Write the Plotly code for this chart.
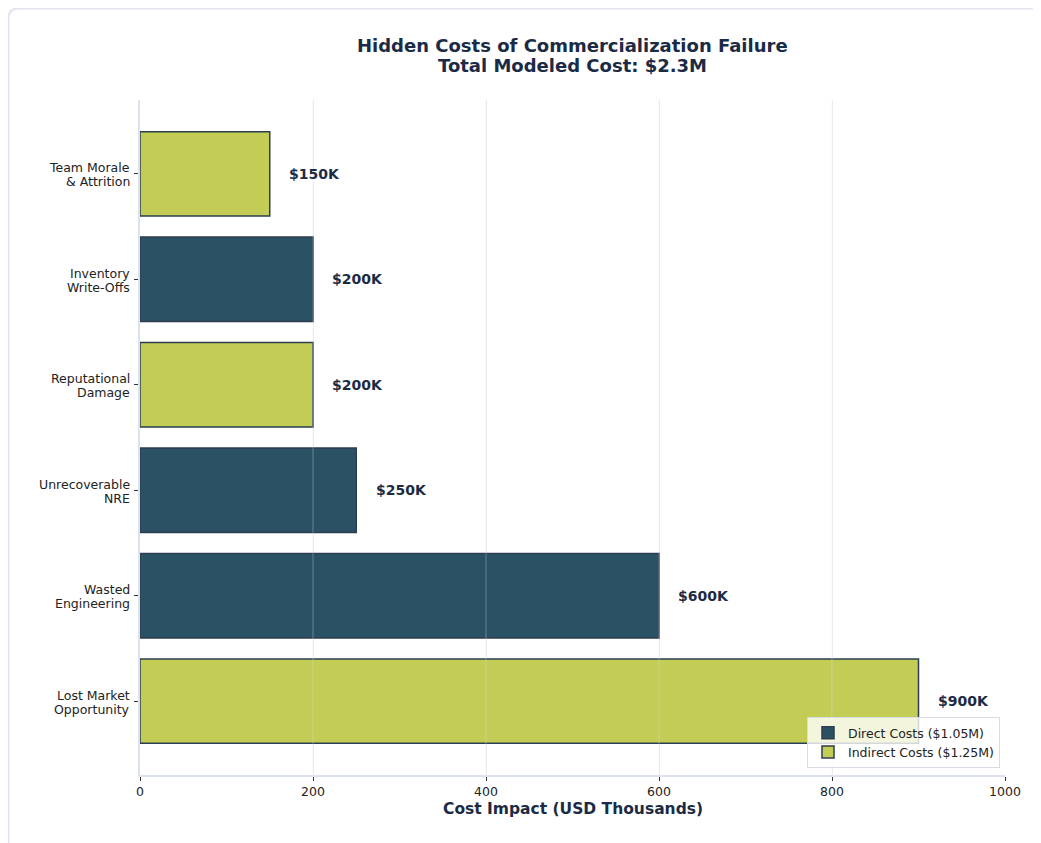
import plotly.graph_objects as go

# ---- data ----
categories = [
    "Lost Market<br>Opportunity",
    "Wasted<br>Engineering",
    "Unrecoverable<br>NRE",
    "Reputational<br>Damage",
    "Inventory<br>Write-Offs",
    "Team Morale<br>& Attrition",
]
values = [900, 600, 250, 200, 200, 150]
cost_type = ["Indirect", "Direct", "Direct", "Indirect", "Direct", "Indirect"]
value_labels = ["$900K", "$600K", "$250K", "$200K", "$200K", "$150K"]
series_names = {"Direct": "Direct Costs ($1.05M)", "Indirect": "Indirect Costs ($1.25M)"}
series_colors = {"Direct": "rgba(20,62,84,0.9)", "Indirect": "rgba(188,198,67,0.9)"}
x_ticks = [0, 200, 400, 600, 800, 1000]
title_lines = ["Hidden Costs of Commercialization Failure", "Total Modeled Cost: $2.3M"]
x_title = "Cost Impact (USD Thousands)"

FONT = "DejaVu Sans"
NAVY = "#1b2b45"
TICK = "#222222"

fig = go.Figure()
for t in ["Direct", "Indirect"]:
    ys = [c for c, ct in zip(categories, cost_type) if ct == t]
    xs = [v for v, ct in zip(values, cost_type) if ct == t]
    fig.add_trace(go.Bar(
        x=xs, y=ys, orientation="h", name=series_names[t], width=0.8,
        marker=dict(color=series_colors[t], line=dict(color="#2c3e50", width=1.5)),
        hoverinfo="x+y",
    ))

# value labels
for c, v, lab in zip(categories, values, value_labels):
    fig.add_annotation(x=v + 20, y=c, text="<b>" + lab + "</b>", showarrow=False,
                       xanchor="left", yanchor="middle",
                       font=dict(family=FONT, size=14, color=NAVY))

# y tick labels (two lines each, tighter line spacing)
for c in categories:
    parts = c.split("<br>")
    n = len(parts)
    for i, p in enumerate(parts):
        fig.add_annotation(x=0, xref="paper", y=c, text=p, showarrow=False,
                           xanchor="right", yanchor="middle", xshift=-8,
                           yshift=((n - 1) / 2 - i) * 14 - 1,
                           font=dict(family=FONT, size=12.5, color=TICK))

# faint gridlines drawn over the bars
for xv in x_ticks[1:-1]:
    fig.add_shape(type="line", xref="x", yref="paper", x0=xv, x1=xv, y0=0, y1=1,
                  line=dict(color="rgba(225,230,240,0.35)", width=1), layer="above")

W, H = 1033, 835
L, R, T, B = 132, 36, 92, 68
pw, ph = W - L - R, H - T - B

def px(xp):
    return (xp - L) / pw

def py(yp):
    return (H - B - yp) / ph

# title lines
for i, line in enumerate(title_lines):
    fig.add_annotation(x=px(564.5), y=py(38 + 20 * i), xref="paper", yref="paper",
                       text="<b>" + line + "</b>", showarrow=False,
                       xanchor="center", yanchor="middle",
                       font=dict(family=FONT, size=18, color=NAVY))

# x axis title
fig.add_annotation(x=0.5, y=py(801), xref="paper", yref="paper",
                   text="<b>" + x_title + "</b>", showarrow=False,
                   xanchor="center", yanchor="middle",
                   font=dict(family=FONT, size=15.5, color=NAVY))

# card border (rounded rect extending past right/bottom edges)
x0, x1, y0, y1 = px(0.5), px(1045), py(0.5), py(860)
rx, ry = 10 / pw, 10 / ph
path = (f"M {x0},{y1} L {x0},{y0 - ry} Q {x0},{y0} {x0 + rx},{y0} "
        f"L {x1},{y0}")
fig.add_shape(type="path", xref="paper", yref="paper", path=path,
              line=dict(color="#e1e3ef", width=2), layer="below")

fig.update_layout(
    width=W, height=H,
    margin=dict(l=L, r=R, t=T, b=B),
    paper_bgcolor="white", plot_bgcolor="white",
    barmode="overlay",
    font=dict(family=FONT, size=12.5, color=TICK),
    legend=dict(
        x=px(992), xanchor="right", y=py(760), yanchor="bottom",
        bgcolor="rgba(255,255,255,0.8)", bordercolor="#d8dce6", borderwidth=1,
        font=dict(family=FONT, size=12.5, color=TICK),
        tracegroupgap=0,
    ),
    showlegend=True,
)
fig.update_xaxes(
    range=[0, 1000], tickvals=x_ticks, ticktext=[str(v) for v in x_ticks],
    showgrid=True, gridcolor="#ececf0", gridwidth=1,
    showline=True, linecolor="#dde3ee", linewidth=2,
    ticks="outside", ticklen=4, tickcolor="#333333", tickwidth=1,
    zeroline=False,
    tickfont=dict(family=FONT, size=12.5, color=TICK),
)
fig.update_yaxes(
    type="category", categoryorder="array", categoryarray=categories,
    range=[-0.7, 5.7],
    showgrid=False, showticklabels=False,
    showline=True, linecolor="#dde3ee", linewidth=2,
    ticks="outside", ticklen=4, tickcolor="#333333", tickwidth=1,
)

fig.write_html("out.html")
